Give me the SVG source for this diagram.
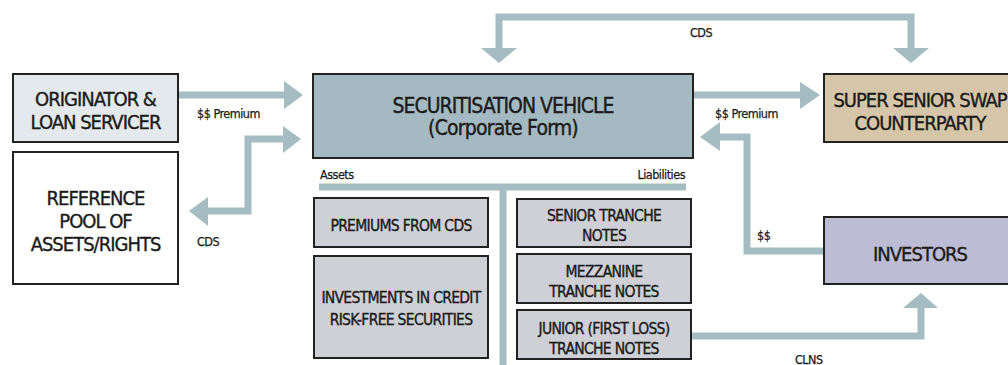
<svg xmlns="http://www.w3.org/2000/svg" width="1008" height="365" viewBox="0 0 1008 365">
<style>
.box{stroke:#222;stroke-width:2}
.t{font-family:"DejaVu Sans Condensed","DejaVu Sans","Liberation Sans",sans-serif;font-stretch:condensed;fill:#1a1a1a;text-anchor:middle;stroke:#1a1a1a;stroke-width:0.35}
.big{font-size:20px;letter-spacing:-1px}
.mid{font-size:15.5px;letter-spacing:-0.7px}
.lbl{font-size:12.5px;letter-spacing:-0.5px;text-anchor:start;stroke-width:0.25}
.ln{fill:none;stroke:#a5bcc3;stroke-width:7}
.hd{fill:#a5bcc3}
</style>
<rect width="1008" height="365" fill="#fff"/>
<g id="connectors">
<path class="ln" d="M178,95 H286"/>
<polygon class="hd" points="284,81 303,95 284,109"/>
<path class="ln" d="M285,139 H248 V211 H206"/>
<polygon class="hd" points="283,126 301,139 283,153"/>
<polygon class="hd" points="208,197 189,211 208,226"/>
<path class="ln" d="M499,50 V17 H911 V50"/>
<polygon class="hd" points="481,48 517,48 499,63"/>
<polygon class="hd" points="893,48 929,48 911,63"/>
<path class="ln" d="M693,95 H802"/>
<polygon class="hd" points="800,82 820,95 800,109"/>
<path class="ln" d="M824,251 H747 V137 H718"/>
<polygon class="hd" points="720,122 700,137 720,151"/>
<path class="ln" d="M691,336 H921 V306"/>
<polygon class="hd" points="903,308 938,308 921,293"/>
<path class="ln" d="M319,187 H686 M503,187 V365"/>
</g>
<g id="labels">
<text class="t lbl" x="197" y="118">$$ Premium</text>
<text class="t lbl" x="197" y="246">CDS</text>
<text class="t lbl" x="690" y="37">CDS</text>
<text class="t lbl" x="715" y="118">$$ Premium</text>
<text class="t lbl" x="757" y="240">$$</text>
<text class="t lbl" x="795" y="364">CLNS</text>
<text class="t lbl" x="320" y="179">Assets</text>
<text class="t lbl" x="685" y="179" style="text-anchor:end">Liabilities</text>
</g>
<g id="originator">
<rect class="box" x="13" y="74" width="165" height="68" fill="#e3e9ec"/>
<text class="t big" x="95.5" y="106">ORIGINATOR &amp;</text>
<text class="t big" x="95.5" y="129">LOAN SERVICER</text>
</g>
<g id="reference-pool">
<rect class="box" x="13" y="152" width="165" height="132" fill="#fff"/>
<text class="t big" x="95.5" y="205">REFERENCE</text>
<text class="t big" x="95.5" y="228">POOL OF</text>
<text class="t big" x="95.5" y="251">ASSETS/RIGHTS</text>
</g>
<g id="vehicle">
<rect class="box" x="313" y="74" width="380" height="84" fill="#a4b9c1"/>
<text class="t big" x="503" y="113" style="font-size:21px">SECURITISATION VEHICLE</text>
<text class="t big" x="503" y="135" style="font-size:21px;letter-spacing:-0.8px">(Corporate Form)</text>
</g>
<g id="super-senior">
<rect class="box" x="824" y="74" width="190" height="68" fill="#d5c5a9"/>
<text class="t big" x="920" y="107">SUPER SENIOR SWAP</text>
<text class="t big" x="920" y="130">COUNTERPARTY</text>
</g>
<g id="investors">
<rect class="box" x="824" y="217" width="190" height="67" fill="#bcbdd4"/>
<text class="t big" x="920" y="261">INVESTORS</text>
</g>
<g id="premiums">
<rect class="box" x="314" y="198" width="174" height="49" fill="#cfd0d6"/>
<text class="t mid" x="401" y="231">PREMIUMS FROM CDS</text>
</g>
<g id="investments">
<rect class="box" x="314" y="256" width="174" height="102" fill="#cfd0d6"/>
<text class="t mid" x="401" y="303">INVESTMENTS IN CREDIT</text>
<text class="t mid" x="401" y="325">RISK-FREE SECURITIES</text>
</g>
<g id="senior">
<rect class="box" x="517" y="199" width="174" height="48" fill="#cfd0d6"/>
<text class="t mid" x="604" y="221">SENIOR TRANCHE</text>
<text class="t mid" x="604" y="241">NOTES</text>
</g>
<g id="mezzanine">
<rect class="box" x="517" y="254" width="174" height="49" fill="#cfd0d6"/>
<text class="t mid" x="604" y="277">MEZZANINE</text>
<text class="t mid" x="604" y="297">TRANCHE NOTES</text>
</g>
<g id="junior">
<rect class="box" x="517" y="310" width="174" height="49" fill="#cfd0d6"/>
<text class="t mid" x="604" y="334">JUNIOR (FIRST LOSS)</text>
<text class="t mid" x="604" y="354">TRANCHE NOTES</text>
</g>
</svg>
